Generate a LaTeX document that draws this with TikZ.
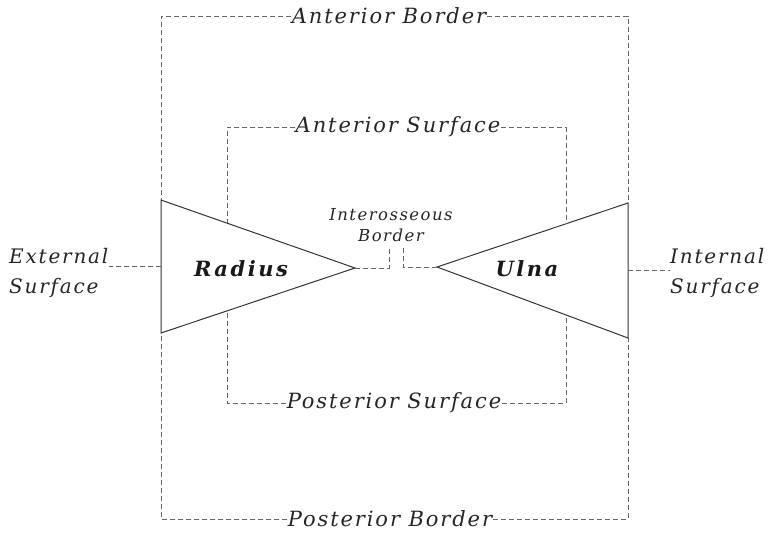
\documentclass[tikz,border=0pt]{standalone}
\usepackage{fontspec}
\setmainfont{DejaVu Serif}
\newfontfamily\lblfont[LetterSpace=9]{DejaVu Serif}
\newfontfamily\bonefont[LetterSpace=12]{DejaVu Serif}
\usetikzlibrary{calc}

\begin{document}
\begin{tikzpicture}[x=1pt,y=-1pt,
  lbl/.style={font=\lblfont\itshape\fontsize{21}{21}\selectfont, inner sep=1pt, text=black!85},
  twoline/.style={font=\lblfont\itshape\fontsize{20}{30}\selectfont, align=left, inner sep=0pt, text=black!85},
  small/.style={font=\lblfont\itshape\fontsize{16.5}{21}\selectfont, align=center, inner sep=0pt, text=black!85},
  bone/.style={font=\bonefont\bfseries\itshape\fontsize{21}{21}\selectfont, text=black!90},
  guide/.style={dash pattern=on 5pt off 3pt, line width=0.6pt, black!60},
  edge/.style={line width=1pt, black!80}]
\useasboundingbox (0,0) rectangle (776,533);

% radius
\coordinate (rtop) at (161,200);
\coordinate (rbot) at (161,333);
\coordinate (rtip) at (355,268);
\draw[edge] (rtop) -- (rtip) -- (rbot) -- cycle;
\node[bone] (radius) at (241,269) {Radius};

% ulna
\coordinate (utop) at (628,203);
\coordinate (ubot) at (628,338);
\coordinate (utip) at (437,267);
\draw[edge] (utop) -- (utip) -- (ubot) -- cycle;
\node[bone] (ulna) at (527,269) {Ulna};

% points on the edges
\coordinate (rup) at ($(rtop)!0.34!(rtip)$);
\coordinate (rlow) at ($(rbot)!0.34!(rtip)$);
\coordinate (uup) at ($(utop)!0.325!(utip)$);
\coordinate (ulow) at ($(ubot)!0.325!(utip)$);
\coordinate (rmid) at ($(rtop)!0.5!(rbot)$);
\coordinate (umid) at ($(utop)!0.5!(ubot)$);

% borders
\node[lbl] (antb) at (389,16) {Anterior Border};
\draw[guide] (antb.west) -| (rtop);
\draw[guide] (antb.east) -| (utop);
\node[lbl] (postb) at (390,519) {Posterior Border};
\draw[guide] (postb.west) -| (rbot);
\draw[guide] (postb.east) -| (ubot);

% surfaces
\node[lbl] (ants) at (398,127) {Anterior Surface};
\draw[guide] (ants.west) -| (rup);
\draw[guide] (ants.east) -| (uup);
\node[lbl] (posts) at (394,403) {Posterior Surface};
\draw[guide] (posts.west) -| (rlow);
\draw[guide] (posts.east) -| (ulow);

\node[twoline,anchor=west] (ext) at (9,273) {External\\Surface};
\draw[guide] (rmid) -- (rmid -| ext.east);
\node[twoline,anchor=west] (int) at (670,273) {Internal\\Surface};
\draw[guide] (umid) -- (umid -| int.west);

% interosseous border
\node[small] (inter) at (391,225) {Interosseous\\Border};
\coordinate (ia) at (389,247);
\coordinate (ib) at (403,247);
\draw[guide] (rtip) -| (ia);
\draw[guide] (utip) -| (ib);
\end{tikzpicture}
\end{document}
